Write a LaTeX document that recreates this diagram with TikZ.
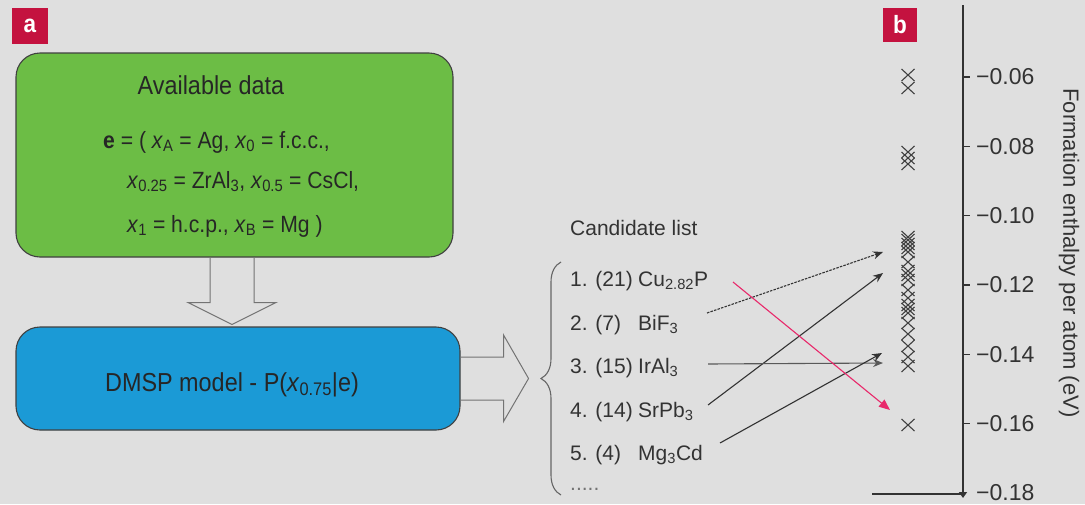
\documentclass[tikz,border=0pt]{standalone}
\usepackage{fontspec}
\setmainfont{Liberation Sans}
\newfontfamily\narrowfont{Liberation Sans}[FakeStretch=0.9]
\usetikzlibrary{calc,arrows.meta,decorations.pathreplacing}
\definecolor{bggray}{HTML}{DFDFDF}
\definecolor{boxgreen}{HTML}{6CBD45}
\definecolor{boxblue}{HTML}{1B9AD6}
\definecolor{labelred}{HTML}{C4123F}
\definecolor{arrowred}{HTML}{E8286A}
\definecolor{darktext}{HTML}{262626}
\definecolor{listtext}{HTML}{333333}
\begin{document}
\begin{tikzpicture}[x=1pt,y=-1pt,
  panellabel/.style={fill=labelred, inner sep=0pt, text=white, font=\narrowfont\bfseries\fontsize{25}{25}\selectfont},
  roundbox/.style={draw=black!75, line width=1.1pt, rounded corners=24pt, inner sep=0pt},
  boxtext/.style={text=darktext, inner sep=0pt, font=\narrowfont\fontsize{23.5}{27}\selectfont},
  listitem/.style={anchor=base west, inner sep=0pt, text=listtext, font=\fontsize{21}{24}\selectfont},
  hollowarrow/.style={draw=black!55, line width=1pt, line join=miter},
  linkarrow/.style={draw=black!80, line width=1.1pt, -{Stealth[length=10pt,width=8pt]}},
  dashlink/.style={linkarrow, dash pattern=on 2.5pt off 1.2pt},
  redlink/.style={draw=arrowred, line width=1.1pt, -{Triangle[length=11pt,width=9pt]}},
  marker/.style={draw=black!75, line width=1.1pt},
  ticklabel/.style={anchor=west, inner sep=0pt, text=listtext, font=\fontsize{23}{26}\selectfont},
]
\useasboundingbox (0,0) rectangle (1085,504);
\fill[bggray] (0,0) rectangle (1085,504);

% panel labels
\node[panellabel, minimum size=36pt] (labela) at (30,26) {a};
\node[panellabel, minimum size=34pt] (labelb) at (900,24.5) {b};

% boxes
\node[roundbox, fill=boxgreen, minimum width=437pt, minimum height=204pt] (avail) at (234.5,155) {};
\node[roundbox, fill=boxblue, minimum width=444pt, minimum height=103pt] (dmsp) at (238,378.5) {};

\node[boxtext, anchor=base, font=\narrowfont\fontsize{26}{30}\selectfont] (availtitle) at (211,94) {Available data};
\node[boxtext, anchor=base west] (eline1) at (103,148) {\textbf{e} = ( \textit{x}\textsubscript{A} = Ag, \textit{x}\textsubscript{0} = f.c.c.,};
\node[boxtext, anchor=base west] (eline2) at (127,188) {\textit{x}\textsubscript{0.25} = ZrAl\textsubscript{3}, \textit{x}\textsubscript{0.5} = CsCl,};
\node[boxtext, anchor=base west] (eline3) at (127,232) {\textit{x}\textsubscript{1} = h.c.p., \textit{x}\textsubscript{B} = Mg )};

\node[boxtext, font=\narrowfont\fontsize{26}{30}\selectfont] (dmsptext) at (232,385) {DMSP model - P(\textit{x}\textsubscript{0.75}|e)};

% hollow block arrows
\draw[hollowarrow] ($(avail.south)+(-24.5,0)$) -- ($(avail.south)+(-24.5,45)$) -- ($(avail.south)+(-46.5,45)$)
  -- ($(dmsp.north)+(-6,-2)$) -- ($(avail.south)+(41.5,45)$) -- ($(avail.south)+(19.5,45)$) -- ($(avail.south)+(19.5,0)$);
\draw[hollowarrow] ($(dmsp.east)+(0,-21.5)$) -- ++(43,0) -- ++(0,-22) -- ($(dmsp.east)+(68,0)$)
  -- ($(dmsp.east)+(43,43)$) -- ++(0,-21.5) -- ($(dmsp.east)+(0,21.5)$);

% brace
\draw[draw=black!60, line width=1.1pt, decorate, decoration={brace, amplitude=20pt}] (561,495) -- (561,262);

% candidate list
\node[listitem] (candtitle) at (570,235) {Candidate list};
\node[listitem] (item1) at (570,286) {\makebox[68pt][l]{1. (21)}Cu\textsubscript{2.82}P};
\node[listitem] (item2) at (570,330) {\makebox[68pt][l]{2. (7)}BiF\textsubscript{3}};
\node[listitem] (item3) at (570,373) {\makebox[68pt][l]{3. (15)}IrAl\textsubscript{3}};
\node[listitem] (item4) at (570,417) {\makebox[68pt][l]{4. (14)}SrPb\textsubscript{3}};
\node[listitem] (item5) at (570,460) {\makebox[68pt][l]{5. (4)}Mg\textsubscript{3}Cd};
\node[listitem, text=black!55] (itemdots) at (570,490) {.....};

% axis
\coordinate (axtop) at (963,5);
\coordinate (axbot) at (963,494);
\coordinate (baseleft) at (872,494);
\draw[draw=black!80, line width=1.4pt, -{Triangle[length=6pt,width=8pt]}] (axtop) -- ($(axbot)+(0,4)$);
\draw[draw=black!80, line width=1.4pt] (baseleft) -- (axbot);
\foreach \k/\lab in {0/{0.06},1/{0.08},2/{0.10},3/{0.12},4/{0.14},5/{0.16},6/{0.18}}{
  \pgfmathsetmacro{\ty}{77+69.33*\k}
  \ifnum\k<6 \draw[draw=black!80, line width=1.2pt] (963,\ty) -- (970,\ty); \fi
  \node[ticklabel] (tick\k) at (976,\ty) {−\lab};
}
\node[rotate=-90, inner sep=0pt, text=listtext, font=\fontsize{22}{26}\selectfont] (ylabel) at (1069,253) {Formation enthalpy per atom (eV)};

% markers
\foreach \yy in {75,88,152,158,164,237,240,244,248,252,262,271,275,280,290,298,305,309,313,323,334,346,357,366,425}{
  \draw[marker] (901.5,{\yy-6}) -- (914.5,{\yy+6}) (901.5,{\yy+6}) -- (914.5,{\yy-6});
}

% links
\coordinate (s1) at (733,282);
\coordinate (s2) at (707,313);
\coordinate (s3) at (708,364);
\coordinate (s4) at (708,405);
\coordinate (s5) at (720,443);
\coordinate (t1) at (890,410);
\coordinate (t2) at (883,252);
\coordinate (t3) at (883,363);
\coordinate (t4) at (883,273);
\coordinate (t5) at (882,353);
\draw[dashlink] (s2) -- (t2);
\draw[linkarrow] (s4) -- (t4);
\draw[linkarrow, draw=black!65] (s3) -- (t3);
\draw[linkarrow] (s5) -- (t5);
\draw[redlink] (s1) -- (t1);
\end{tikzpicture}
\end{document}
